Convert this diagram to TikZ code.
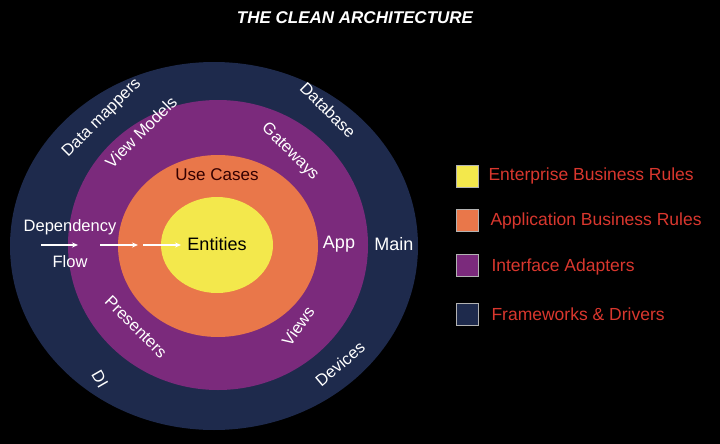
\documentclass[tikz,border=0pt]{standalone}
\usepackage{fontspec}
\setmainfont{Liberation Sans}
\usetikzlibrary{arrows.meta,positioning}
\definecolor{navy}{HTML}{1E2A4C}
\definecolor{plum}{HTML}{7B2A7C}
\definecolor{tangerine}{HTML}{E9774A}
\definecolor{lemon}{HTML}{F3E84C}
\definecolor{legendred}{HTML}{D9372E}
\tikzset{
  ring/.style={white, inner sep=1pt, font=\fontsize{16.5}{16.5}\selectfont},
  key/.style={draw=gray!60, line width=1pt, minimum size=22pt, inner sep=0pt},
  keytext/.style={legendred, font=\fontsize{17.5}{17.5}\selectfont, anchor=west},
  flow/.style={white, line width=1.3pt, -{Stealth[length=6pt,width=5pt]}},
}
\begin{document}
\begin{tikzpicture}[x=1pt, y=-1pt]
    \fill[black] (0,0) rectangle (720,444);
    \useasboundingbox (0,0) rectangle (720,444);
    \node (title) at (355,18) {\color{white}\fontsize{17}{17}\selectfont\bfseries\itshape THE CLEAN ARCHITECTURE};
    %% Rings
    \fill[navy] (214,246) ellipse (204 and 184);
    \fill[plum] (218,245) ellipse (150 and 145);
    \fill[tangerine] (218,246) ellipse (100 and 91);
    \fill[lemon] (217,245) ellipse (56 and 48);
    %% Labels
    \node[ring, rotate=45] (mappers) at (102,118) {Data mappers};
    \node[ring, rotate=-45] (db) at (328,110) {Database};
    \node[ring, rotate=45] (vm) at (141,132) {View Models};
    \node[ring, rotate=-45] (gw) at (290,152) {Gateways};
    \node[ring, black!80!red, font=\fontsize{17}{17}\selectfont] (uc) at (217,175) {Use Cases};
    \node[ring, black, font=\fontsize{18}{18}\selectfont] (ent) at (217,244) {Entities};
    \node[ring, font=\fontsize{18}{18}\selectfont] (app) at (339,244) {App};
    \node[ring, font=\fontsize{18}{18}\selectfont] (main) at (394,244) {Main};
    \node[ring] (dep) at (70,227) {Dependency};
    \node[ring] (flowtxt) at (70,262) {Flow};
    \node[ring, rotate=-45] (pres) at (136,327) {Presenters};
    \node[ring, rotate=-60] (di) at (100,379) {DI};
    \node[ring, rotate=55] (views) at (298,326) {Views};
    \node[ring, rotate=40] (dev) at (340,364) {Devices};
    %% Flow arrows
    \coordinate (f1) at (41,245); \coordinate (f2) at (78,245);
    \coordinate (f3) at (100,245); \coordinate (f4) at (138,245);
    \coordinate (f5) at (143,245); \coordinate (f6) at (181,245);
    \draw[flow] (f1) -- (f2);
    \draw[flow] (f3) -- (f4);
    \draw[flow] (f5) -- (f6);
    %% Legend
    \node[key, fill=lemon] (k1) at (467,176) {};
    \node[key, fill=tangerine] (k2) at (467,220) {};
    \node[key, fill=plum] (k3) at (467,265) {};
    \node[key, fill=navy] (k4) at (467,314) {};
    \node[keytext] (t1) at (485,176) {Enterprise Business Rules};
    \node[keytext] (t2) at (487,221) {Application Business Rules};
    \node[keytext] (t3) at (488,267) {Interface Adapters};
    \node[keytext] (t4) at (488,314) {Frameworks \& Drivers};
\end{tikzpicture}
\end{document}
